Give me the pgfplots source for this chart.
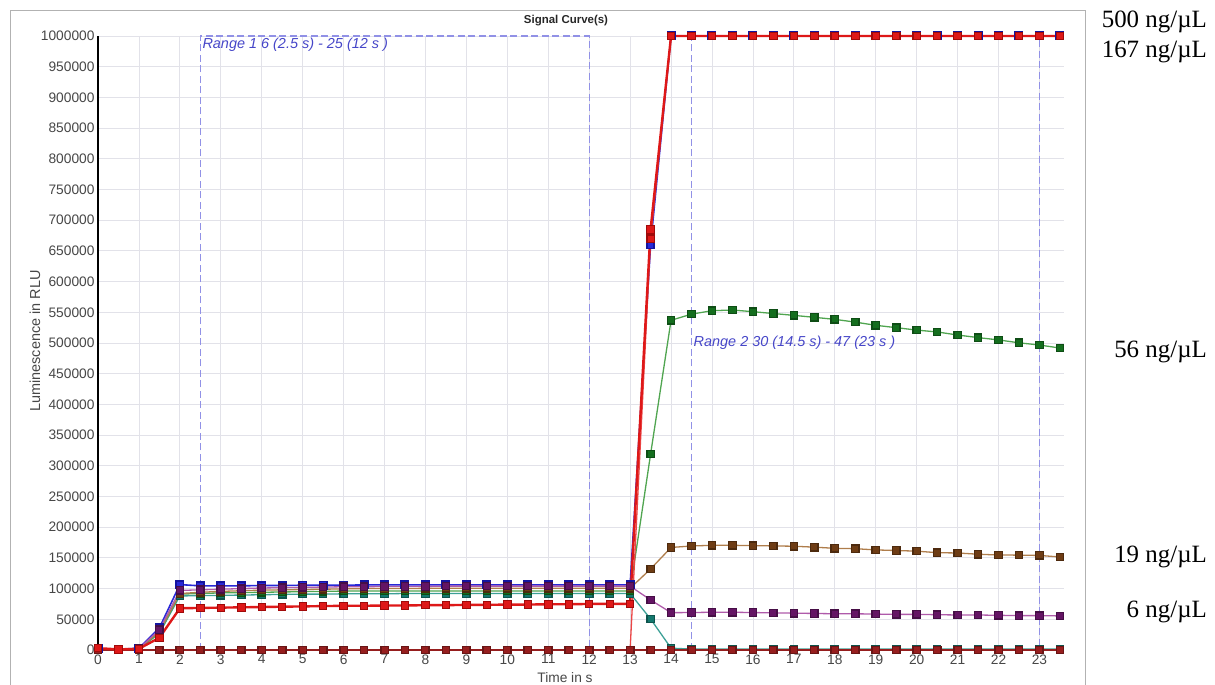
\documentclass[border=0pt]{standalone}
\usepackage{pgfplots}
\usepackage{pgfplotstable}
\usepackage{fontspec}
\pgfplotsset{compat=1.18}
\setmainfont{Liberation Sans}
\newfontfamily\labelserif{Liberation Serif}

\definecolor{cRed}{RGB}{222,24,24}
\definecolor{cRedDark}{RGB}{160,10,10}
\definecolor{cRedB}{RGB}{235,70,70}
\definecolor{cBlue}{RGB}{40,40,215}
\definecolor{cBlueDark}{RGB}{20,20,160}
\definecolor{cPurple}{RGB}{175,90,170}
\definecolor{cPurpleDark}{RGB}{100,20,100}
\definecolor{cBrown}{RGB}{175,125,75}
\definecolor{cBrownDark}{RGB}{110,60,20}
\definecolor{cGreen}{RGB}{80,165,80}
\definecolor{cGreenDark}{RGB}{20,110,30}
\definecolor{cTeal}{RGB}{60,160,150}
\definecolor{cTealDark}{RGB}{20,120,110}
\definecolor{cCtrl}{RGB}{150,30,30}
\definecolor{cRange}{RGB}{145,145,230}
\definecolor{cRangeText}{RGB}{70,70,200}
\definecolor{cGrid}{RGB}{226,226,233}

% time (s) and luminescence (RLU) of each well
\pgfplotstableread{
t    ctrl redA    redB    blue    purple brown  green  teal
0    0    3000    0       2000    2000   2000   2000   2000
0.5  0    1000    0       1000    1000   1000   1000   1000
1    0    2000    0       3000    2500   2500   2000   2000
1.5  0    20000   0       36000   33000  30000  28000  27000
2    0    68000   0       106500  97000  92000  91000  88000
2.5  0    68500   0       104500  98000  94000  92000  88500
3    0    69000   0       104500  99000  95500  93000  89000
3.5  0    69500   0       104500  100000 96500  93500  89500
4    0    70000   0       105000  101000 97500  94000  90000
4.5  0    70500   0       105000  101500 98000  94500  90500
5    0    71000   0       105500  102000 98500  95000  91000
5.5  0    71500   0       105500  102500 99000  95500  91000
6    0    72000   0       105500  103000 99500  96000  91500
6.5  0    72000   0       106000  103000 100000 96000  91500
7    0    72500   0       106000  103500 100000 96000  91500
7.5  0    72500   0       106000  103500 100000 96000  92000
8    0    73000   0       106000  103500 100500 96000  92000
8.5  0    73000   0       106000  104000 100500 96000  92000
9    0    73500   0       106000  104000 100500 96000  92000
9.5  0    73500   0       106000  104000 100500 96000  92000
10   0    74000   0       106000  104000 100500 96000  92000
10.5 0    74000   0       106000  104000 100500 96000  92000
11   0    74500   0       106000  104000 100500 96000  92000
11.5 0    74500   0       106000  104000 100500 96000  92000
12   0    75000   0       106000  104000 100500 96000  92000
12.5 0    75000   0       106000  104000 100500 96000  92000
13   0    75000   0       106000  104000 100500 96000  92000
13.5 0    685000  670000  660000  81500  132000 319000 50500
14   0    1000000 1000000 1000000 60800  167000 537000 3000
14.5 0    1000000 1000000 1000000 61000  169400 547000 1500
15   0    1000000 1000000 1000000 61500  170500 552600 1500
15.5 0    1000000 1000000 1000000 61500  170500 553700 1500
16   0    1000000 1000000 1000000 61000  170000 551000 1500
16.5 0    1000000 1000000 1000000 60500  169500 548000 1500
17   0    1000000 1000000 1000000 60000  169000 545000 1500
17.5 0    1000000 1000000 1000000 59500  167500 541800 1500
18   0    1000000 1000000 1000000 59000  165600 538500 1500
18.5 0    1000000 1000000 1000000 59000  165000 534000 1500
19   0    1000000 1000000 1000000 58500  163000 528800 1500
19.5 0    1000000 1000000 1000000 58000  162000 525000 1500
20   0    1000000 1000000 1000000 58000  161000 521000 1500
20.5 0    1000000 1000000 1000000 57500  158500 518000 1500
21   0    1000000 1000000 1000000 57000  158000 513000 1500
21.5 0    1000000 1000000 1000000 57000  156000 508800 1500
22   0    1000000 1000000 1000000 56500  154700 505000 1500
22.5 0    1000000 1000000 1000000 56000  154500 500300 1500
23   0    1000000 1000000 1000000 56000  154000 496700 1500
23.5 0    1000000 1000000 1000000 55500  151500 491800 1500
}\signal

\begin{document}
\begin{tikzpicture}
\useasboundingbox (0,0) rectangle (1215bp,685bp);
% outer chart frame
\draw[black!30, line width=0.8bp] (10bp,-2bp) -- (10bp,675bp) -- (1085bp,675bp) -- (1085bp,-2bp);

\begin{axis}[
  at={(98bp,35bp)}, anchor=south west,
  scale only axis, width=966bp, height=614bp,
  xmin=0, xmax=23.6, ymin=0, ymax=1000000,
  clip=false,
  axis x line*=bottom, axis y line*=left,
  x axis line style={-, black!45, line width=0.6bp},
  y axis line style={-, black, line width=1.8bp},
  xtick={0,1,...,23},
  ytick={0,50000,100000,150000,200000,250000,300000,350000,400000,450000,500000,550000,600000,650000,700000,750000,800000,850000,900000,950000,1000000},
  major tick length=0pt,
  scaled y ticks=false,
  /pgf/number format/.cd, fixed, precision=0, 1000 sep={}, assume math mode=true,
  /pgfplots/.cd,
  tick label style={font=\fontsize{13.8}{15}\selectfont, text=black!72},
  xticklabel style={yshift=-1bp},
  yticklabel style={xshift=0bp},
  grid=major,
  major grid style={cGrid, line width=0.8bp},
  every axis plot/.append style={mark=square*, mark size=3.7bp},
]
% evaluation ranges
\draw[cRange, dash pattern=on 7bp off 3.5bp, line width=1.2bp] (axis cs:2.5,0) rectangle (axis cs:12,1000000);
\draw[cRange, dash pattern=on 7bp off 3.5bp, line width=1.2bp] (axis cs:14.5,0) rectangle (axis cs:23,1000000);
\node[anchor=north west, text=cRangeText, font=\itshape\fontsize{14.5}{16}\selectfont, inner sep=2bp]
  at (axis cs:2.5,1000000) {Range 1 6 (2.5 s) - 25 (12 s )};
\node[anchor=west, text=cRangeText, font=\itshape\fontsize{14.5}{16}\selectfont, inner sep=2bp]
  at (axis cs:14.5,500000) {Range 2 30 (14.5 s) - 47 (23 s )};

\addplot[cTeal, line width=1.3bp, mark options={fill=cTealDark, draw=cTealDark!70!black}] table[x=t, y=teal] {\signal};
\addplot[cGreen, line width=1.3bp, mark options={fill=cGreenDark, draw=cGreenDark!70!black}] table[x=t, y=green] {\signal};
\addplot[cBrown, line width=1.3bp, mark options={fill=cBrownDark, draw=cBrownDark!70!black}] table[x=t, y=brown] {\signal};
\addplot[cBlue, line width=1.6bp, mark options={fill=cBlue, draw=cBlueDark}] table[x=t, y=blue] {\signal};
\addplot[cPurple, line width=1.3bp, mark options={fill=cPurpleDark, draw=cPurpleDark!70!black}] table[x=t, y=purple] {\signal};
\addplot[cRedB, line width=1.3bp, mark options={fill=cRed, draw=cRedDark}] table[x=t, y=redB] {\signal};
\addplot[cCtrl, line width=1.4bp, mark options={fill=cCtrl, draw=cCtrl!70!black}] table[x=t, y=ctrl] {\signal};
\addplot[cRed, line width=2.4bp, mark options={fill=cRed, draw=cRedDark, line width=0.8bp}] table[x=t, y=redA] {\signal};
\end{axis}

% titles
\node[font=\bfseries\fontsize{11.5}{13}\selectfont, text=black!85] at (566bp,664bp) {Signal Curve(s)};
\node[font=\fontsize{13.8}{15}\selectfont, text=black!72] at (565bp,7bp) {Time in s};
\node[font=\fontsize{14.5}{16}\selectfont, text=black!72, rotate=90] at (35bp,344bp) {Luminescence in RLU};

% concentration labels
\begin{scope}[every node/.style={anchor=east, font=\labelserif\fontsize{25}{28}\selectfont, inner sep=0pt}]
\node at (1207bp,663bp) {500 ng/µL};
\node at (1207bp,633bp) {167 ng/µL};
\node at (1207bp,333bp) {56 ng/µL};
\node at (1207bp,128bp) {19 ng/µL};
\node at (1207bp,73bp) {6 ng/µL};
\end{scope}
\end{tikzpicture}
\end{document}
